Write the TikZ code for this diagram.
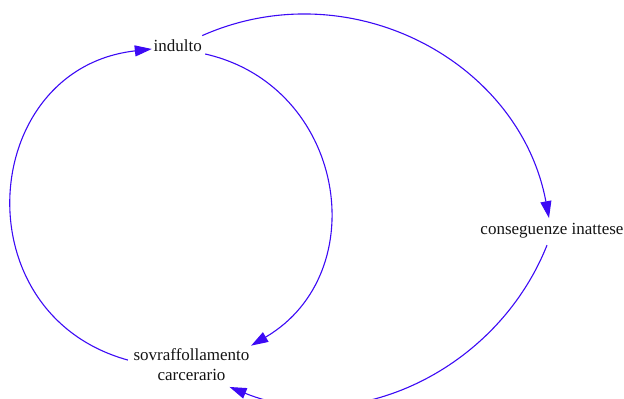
\documentclass[tikz,border=0pt]{standalone}
\usepackage{fontspec}
\setmainfont{Liberation Serif}
\usetikzlibrary{arrows.meta}
\definecolor{edgeblue}{RGB}{60,10,245}
\definecolor{labeltext}{RGB}{20,20,20}
\begin{document}
\begin{tikzpicture}[x=1pt,y=1pt,
  lbl/.style={inner sep=0pt, font=\fontsize{17}{19.3}\selectfont, text=labeltext},
  link/.style={draw=edgeblue, line width=1.1pt, -{Triangle[length=17pt,width=11pt]}}]
\useasboundingbox (0,0) rectangle (624,399);
\clip (0,0) rectangle (624,399);
\node[lbl, anchor=base] (ind) at (177.8,347) {indulto};
\node[lbl, anchor=base] (con) at (552,164.7) {conseguenze inattese};
\node[lbl, align=center] (sov) at (191.5,34.45) {sovraffollamento\\carcerario};
% sovraffollamento -> indulto (left arc)
\draw[link] ([shift={(-5.5,4.5)}]sov.west) to[out=164.55, in=186.46, looseness=1.43] ([shift={(-1.7,-2.8)}]ind.west);
% indulto -> sovraffollamento (right arc)
\draw[link] ([shift={(3.1,-2)}]ind.base east) to[out=-12.8, in=30.4, looseness=1.245] ([shift={(1.5,3)}]sov.north east);
% indulto -> conseguenze inattese
\draw[link] ([shift={(0.1,4.4)}]ind.north east) to[out=23.9, in=100.6, looseness=1.05] ([shift={(-3,4.7)}]con.north);
% conseguenze inattese -> sovraffollamento
\draw[link] ([shift={(-5,-7)}]con.south) to[out=-111.7, in=-22, looseness=0.99] ([shift={(38,-6.5)}]sov.south);
\end{tikzpicture}
\end{document}
